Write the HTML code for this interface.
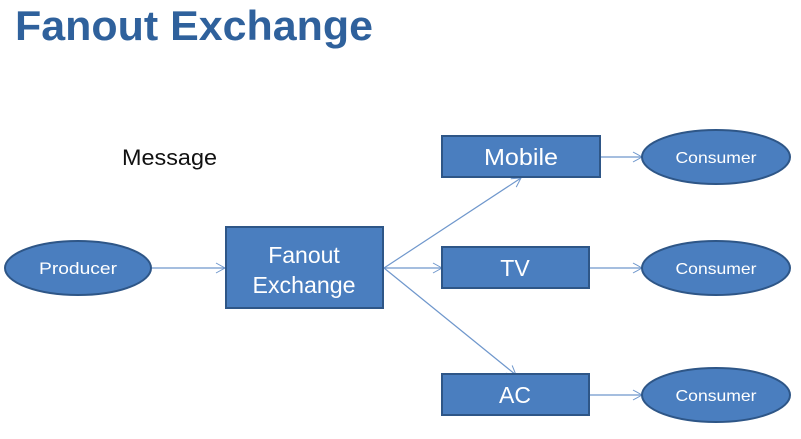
<!DOCTYPE html>
<html><head><meta charset="utf-8"><style>
html,body{margin:0;padding:0;background:#fff;width:801px;height:439px;overflow:hidden}
</style></head><body>
<svg width="801" height="439" viewBox="0 0 801 439" xmlns="http://www.w3.org/2000/svg" font-family="'Liberation Sans', 'DejaVu Sans', sans-serif">
<defs>
<marker id="a" markerWidth="12" markerHeight="12" refX="10" refY="6" orient="auto" markerUnits="userSpaceOnUse">
<path d="M1,1 L10,6 L1,11" fill="none" stroke="#6f97cc" stroke-width="1"/>
</marker>
</defs>
<text x="15" y="40" font-size="42" font-weight="bold" fill="#2f619c" textLength="358" lengthAdjust="spacingAndGlyphs">Fanout Exchange</text>
<text x="122" y="165" font-size="22" fill="#111" textLength="95" lengthAdjust="spacingAndGlyphs">Message</text>
<g stroke="#6f97cc" stroke-width="1.2" fill="none" marker-end="url(#a)">
<line x1="152" y1="268" x2="225" y2="268"/>
<line x1="384" y1="268" x2="521" y2="178"/>
<line x1="384" y1="268" x2="442" y2="268"/>
<line x1="384" y1="268" x2="516" y2="375"/>
<line x1="600" y1="157" x2="642" y2="157"/>
<line x1="589" y1="268" x2="642" y2="268"/>
<line x1="589" y1="395" x2="642" y2="395"/>
</g>
<g fill="#4a7ebf" stroke="#2e5687" stroke-width="2">
<ellipse cx="78" cy="268" rx="73" ry="27"/>
<rect x="226" y="227" width="157" height="81"/>
<rect x="442" y="136" width="158" height="41"/>
<rect x="442" y="247" width="147" height="41"/>
<rect x="442" y="374" width="147" height="41"/>
<ellipse cx="716" cy="157" rx="74" ry="27"/>
<ellipse cx="716" cy="268" rx="74" ry="27"/>
<ellipse cx="716" cy="395" rx="74" ry="27"/>
</g>
<g fill="#fff" text-anchor="middle">
<text x="78" y="274" font-size="17" textLength="78" lengthAdjust="spacingAndGlyphs">Producer</text>
<text x="304" y="263" font-size="23">Fanout</text>
<text x="304" y="293" font-size="23" textLength="103" lengthAdjust="spacingAndGlyphs">Exchange</text>
<text x="521" y="165" font-size="23" textLength="74" lengthAdjust="spacingAndGlyphs">Mobile</text>
<text x="515" y="276" font-size="23">TV</text>
<text x="515" y="403" font-size="23">AC</text>
<text x="716" y="163" font-size="16" textLength="81" lengthAdjust="spacingAndGlyphs">Consumer</text>
<text x="716" y="274" font-size="16" textLength="81" lengthAdjust="spacingAndGlyphs">Consumer</text>
<text x="716" y="401" font-size="16" textLength="81" lengthAdjust="spacingAndGlyphs">Consumer</text>
</g>
</svg>
</body></html>
